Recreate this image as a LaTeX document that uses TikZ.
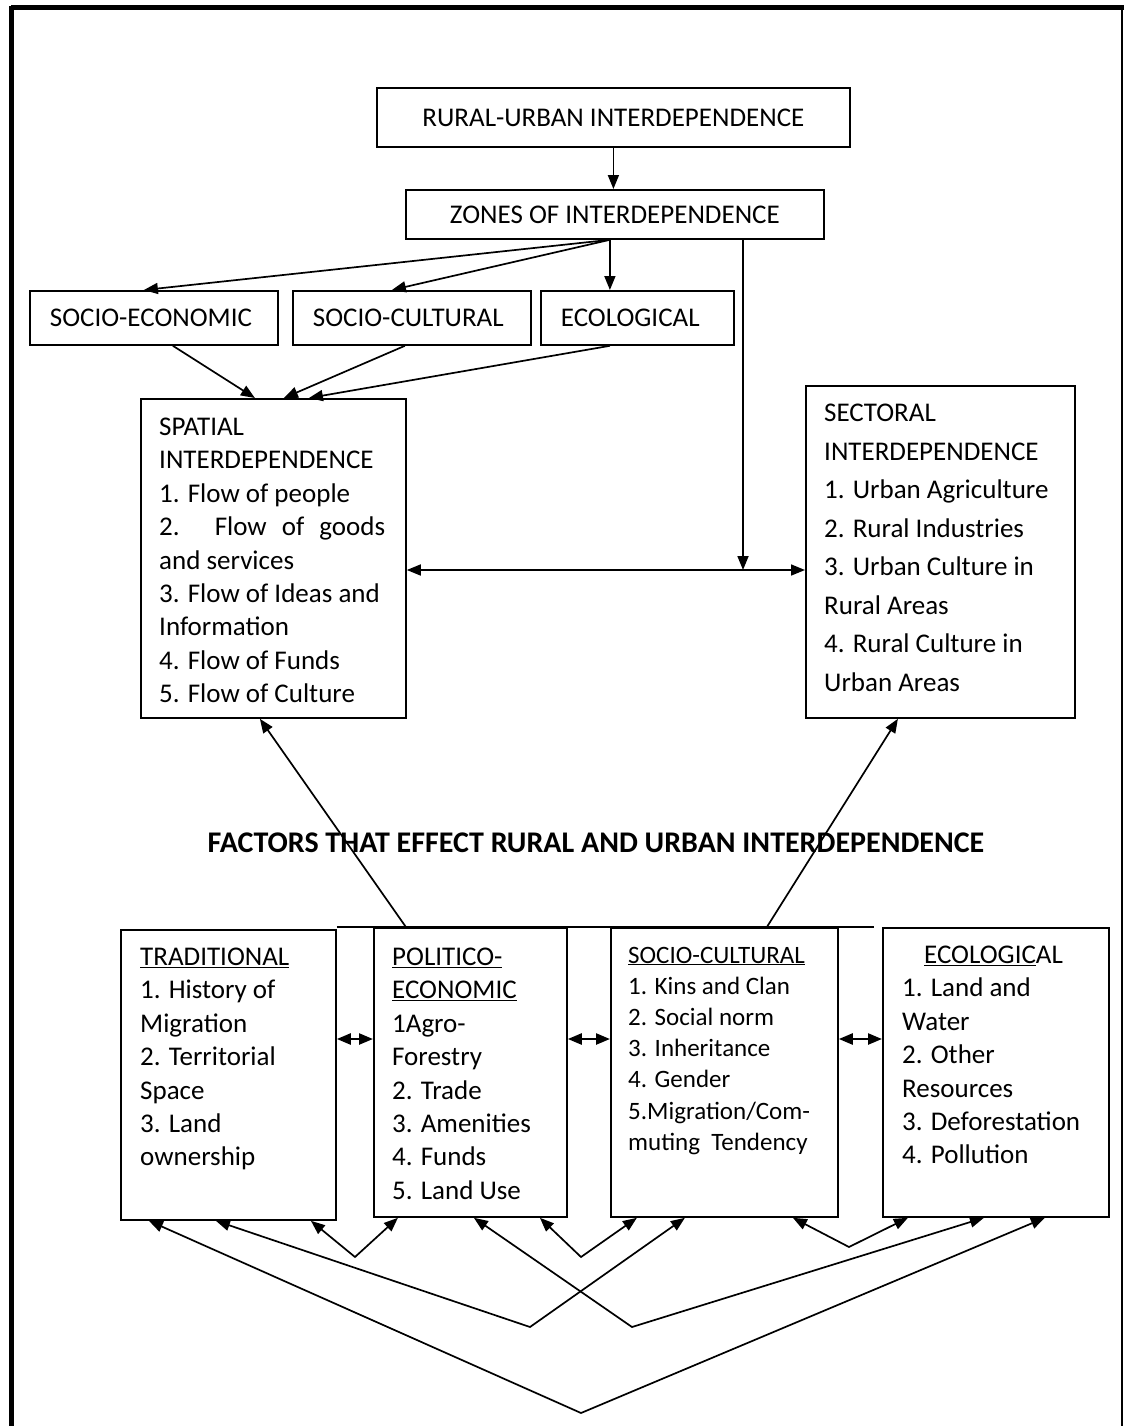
\documentclass[tikz,border=0pt]{standalone}
\usepackage{fontspec}
\setmainfont{Carlito}
\usepackage{tikz}
\usetikzlibrary{calc,arrows.meta}
\newcommand\bodytxt{\fontsize{27}{33.4}\selectfont}
\newcommand\secttxt{\fontsize{27}{38.5}\selectfont}
\newcommand\smalltxt{\fontsize{25}{31.2}\selectfont}
\newcommand\headtxt{\fontsize{30}{36}\selectfont\bfseries}
\tikzset{
  box/.style={draw=black, line width=1.8pt, rectangle, inner sep=0pt, anchor=north west},
  topbox/.style={box, font=\bodytxt},
  leftbox/.style={topbox, align=left, inner xsep=20pt},
  listtxt/.style={anchor=north west, inner sep=0pt, align=left, font=\bodytxt},
  boxline/.style={draw=black, line width=1.8pt},
  arr/.style={draw=black, line width=1.7pt, -{Triangle[length=14pt,width=11pt]}},
  dbl/.style={arr, {Triangle[length=14pt,width=11pt]}-{Triangle[length=14pt,width=11pt]}},
  frame/.style={draw=black, line width=5pt},
}
\begin{document}
\begin{tikzpicture}[x=1pt,y=-1pt]
  \useasboundingbox (0,0) rectangle (1124,1426);
  % page frame
  \draw[frame] (11,8) -- (1124,8);
  \draw[frame] (11,6) -- (11,1426);
  \draw[line width=1.5pt] (1122,10) -- (1122,1426);

  % zones
  \node[topbox, minimum width=473pt, minimum height=59pt] (rural) at (376,87) {RURAL-URBAN INTERDEPENDENCE};
  \node[topbox, minimum width=418pt, minimum height=49pt] (zones) at (405,189) {ZONES OF INTERDEPENDENCE};
  \node[leftbox, minimum height=54pt, text width=208pt] (se) at (29,290) {SOCIO-ECONOMIC};
  \node[leftbox, minimum height=54pt, text width=198pt] (sc) at (292,290) {SOCIO-CULTURAL};
  \node[leftbox, minimum height=54pt, text width=153pt] (eco) at (540,290) {ECOLOGICAL};

  \node[box, minimum width=265pt, minimum height=319pt] (spatial) at (140,398) {};
  \node[listtxt] (spatialtxt) at (159,412) {\strut SPATIAL\\
    INTERDEPENDENCE\\
    1. Flow of people\\
    \makebox[226pt][s]{2. Flow of goods}\\
    and services\\
    3. Flow of Ideas and\\
    Information\\
    4. Flow of Funds\\
    5. Flow of Culture};
  \node[box, minimum width=269pt, minimum height=332pt] (sectoral) at (805,385) {};
  \node[listtxt, font=\secttxt] (sectoraltxt) at (824,394.5) {\strut SECTORAL\\
    INTERDEPENDENCE\\
    1. Urban Agriculture\\
    2. Rural Industries\\
    3. Urban Culture in\\
    Rural Areas\\
    4. Rural Culture in\\
    Urban Areas};

  \coordinate (zfork) at ([xshift=-5pt]zones.south);
  \draw[arr] (rural.south) -- (rural.south |- zones.north);
  \draw[arr] (zfork) -- ([xshift=-10pt]se.north);
  \draw[arr] (zfork) -- ([xshift=-20pt]sc.north);
  \draw[arr] (zfork) -- (zfork |- eco.north);
  \draw[arr] ([xshift=19pt]se.south) -- ([xshift=-18.5pt]spatial.north);
  \draw[arr] ([xshift=-7pt]sc.south) -- ([xshift=10.5pt]spatial.north);
  \draw[arr] ([xshift=-27.5pt]eco.south) -- ([xshift=35.5pt]spatial.north);
  \coordinate (join) at (743,570);
  \draw[arr] (join |- zones.south) -- (join);
  \draw[dbl] (spatial.east |- join) -- (sectoral.west |- join);

  % factors
  \node[font=\headtxt] (factors) at (596,843) {FACTORS THAT EFFECT RURAL AND URBAN INTERDEPENDENCE};

  \node[box, minimum width=215pt, minimum height=290pt] (trad) at (120,929) {};
  \node[box, minimum width=193pt, minimum height=289pt] (polit) at (373,927) {};
  \node[box, minimum width=227pt, minimum height=289pt] (socio) at (610,927) {};
  \node[box, minimum width=226pt, minimum height=289pt] (ecolo) at (882,927) {};
  \node[listtxt] (tradtxt) at (140,942) {\strut\underline{TRADITIONAL}\\
    1. History of\\
    Migration\\
    2. Territorial\\
    Space\\
    3. Land\\
    ownership};
  \node[listtxt] (polittxt) at (392,942) {\strut\underline{POLITICO-}\\
    \underline{ECONOMIC}\\
    1Agro-\\
    Forestry\\
    2. Trade\\
    3. Amenities\\
    4. Funds\\
    5. Land Use};
  \node[listtxt, font=\smalltxt] (sociotxt) at (628,941) {\strut\underline{SOCIO-CULTURAL}\\
    1. Kins and Clan\\
    2. Social norm\\
    3. Inheritance\\
    4. Gender\\
    5.Migration/Com-\\
    muting\ \ Tendency};
  \node[listtxt] (ecolotxt) at (902,940) {\strut\hspace*{22pt}\underline{ECOLOGIC}AL\\
    1. Land and\\
    Water\\
    2. Other\\
    Resources\\
    3. Deforestation\\
    4. Pollution};

  \draw[boxline] (trad.north east |- polit.north) -- ([xshift=35pt]socio.north east);
  \draw[arr] ([xshift=-64.5pt]polit.north) -- ([xshift=-13.5pt]spatial.south);
  \draw[arr] ([xshift=42.5pt]socio.north) -- ([xshift=-42.5pt]sectoral.south);

  \coordinate (mid) at (0,1039);
  \foreach \a/\b in {trad/polit,polit/socio,socio/ecolo}
    \draw[dbl, line width=2.4pt] (\a.east |- mid) -- (\b.west |- mid);

  % links under the factor boxes
  \coordinate (v1) at (355,1257);
  \coordinate (v2) at (581,1257);
  \coordinate (v3) at (849,1247);
  \coordinate (v4) at (530,1327);
  \coordinate (v5) at (632,1327);
  \coordinate (v6) at (581,1413);
  \foreach \p/\dp/\v/\q/\dq in {trad/82.5/v1/polit/-72.5, polit/69.5/v2/socio/-87.5,
      socio/68.5/v3/ecolo/-88, trad/-12.5/v4/socio/-39.5,
      polit/3.5/v5/ecolo/-12, trad/-79.5/v6/ecolo/49}
    \draw[dbl] ($(\p.south)+(\dp,0)$) -- (\v) -- ($(\q.south)+(\dq,0)$);
\end{tikzpicture}
\end{document}
